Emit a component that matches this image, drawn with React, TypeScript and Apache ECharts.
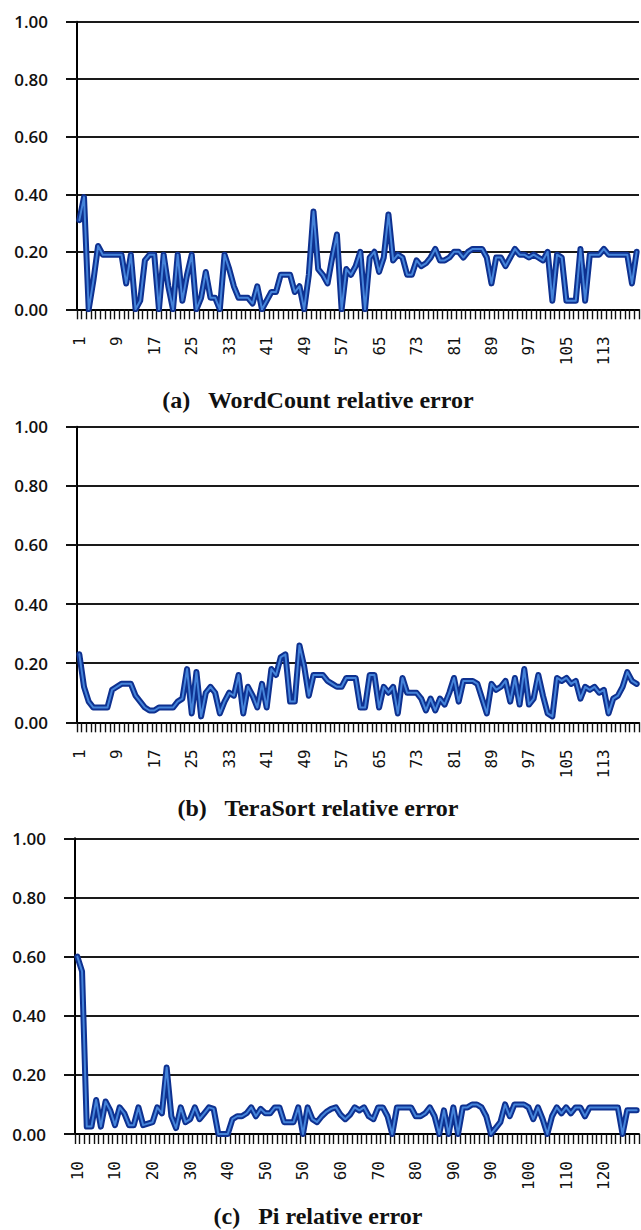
import React, { useEffect, useRef } from "react";
import * as echarts from "echarts";

// Relative error per run, 120 runs for each benchmark.
const wordCountError = [
  0.31, 0.39, 0.0, 0.1, 0.22, 0.19, 0.19, 0.19, 0.19, 0.19,
  0.09, 0.19, 0.0, 0.03, 0.17, 0.19, 0.19, 0.0, 0.19, 0.08,
  0.0, 0.19, 0.03, 0.12, 0.19, 0.0, 0.04, 0.13, 0.04, 0.04,
  0.0, 0.19, 0.14, 0.08, 0.04, 0.04, 0.04, 0.02, 0.08, 0.0,
  0.03, 0.06, 0.06, 0.12, 0.12, 0.12, 0.06, 0.08, 0.0, 0.12,
  0.34, 0.14, 0.12, 0.09, 0.18, 0.26, 0.0, 0.14, 0.12, 0.15,
  0.2, 0.0, 0.18, 0.2, 0.13, 0.18, 0.33, 0.17, 0.19, 0.18,
  0.12, 0.12, 0.17, 0.15, 0.16, 0.18, 0.21, 0.17, 0.17, 0.18,
  0.2, 0.2, 0.18, 0.2, 0.21, 0.21, 0.21, 0.18, 0.09, 0.18,
  0.18, 0.15, 0.18, 0.21, 0.19, 0.19, 0.18, 0.19, 0.18, 0.17,
  0.2, 0.03, 0.19, 0.18, 0.03, 0.03, 0.03, 0.21, 0.03, 0.19,
  0.19, 0.19, 0.21, 0.19, 0.19, 0.19, 0.19, 0.19, 0.09, 0.2,
];

const teraSortError = [
  0.23, 0.12, 0.07, 0.05, 0.05, 0.05, 0.05, 0.11, 0.12, 0.13,
  0.13, 0.13, 0.09, 0.07, 0.05, 0.04, 0.04, 0.05, 0.05, 0.05,
  0.05, 0.07, 0.08, 0.18, 0.03, 0.17, 0.02, 0.1, 0.12, 0.1,
  0.03, 0.07, 0.1, 0.09, 0.16, 0.03, 0.12, 0.09, 0.05, 0.13,
  0.05, 0.18, 0.16, 0.22, 0.23, 0.07, 0.07, 0.26, 0.19, 0.09,
  0.16, 0.16, 0.16, 0.14, 0.13, 0.12, 0.12, 0.15, 0.15, 0.15,
  0.05, 0.05, 0.16, 0.16, 0.05, 0.12, 0.1, 0.12, 0.03, 0.15,
  0.1, 0.1, 0.1, 0.08, 0.04, 0.08, 0.04, 0.08, 0.06, 0.1,
  0.15, 0.07, 0.14, 0.14, 0.14, 0.13, 0.08, 0.03, 0.13, 0.11,
  0.12, 0.14, 0.07, 0.15, 0.06, 0.18, 0.06, 0.08, 0.16, 0.09,
  0.03, 0.02, 0.15, 0.14, 0.15, 0.13, 0.14, 0.08, 0.12, 0.11,
  0.12, 0.1, 0.11, 0.03, 0.08, 0.09, 0.12, 0.17, 0.14, 0.13,
];

const piError = [
  0.6, 0.55, 0.025, 0.025, 0.115, 0.025, 0.11, 0.08, 0.03, 0.09,
  0.07, 0.03, 0.03, 0.09, 0.03, 0.035, 0.04, 0.09, 0.07, 0.225,
  0.06, 0.02, 0.09, 0.04, 0.05, 0.09, 0.05, 0.07, 0.09, 0.085,
  0.0, 0.0, 0.0, 0.05, 0.06, 0.06, 0.07, 0.09, 0.06, 0.085,
  0.07, 0.07, 0.09, 0.09, 0.04, 0.04, 0.04, 0.09, 0.0, 0.09,
  0.05, 0.04, 0.06, 0.075, 0.085, 0.09, 0.065, 0.05, 0.065, 0.09,
  0.08, 0.09, 0.06, 0.05, 0.09, 0.09, 0.06, 0.0, 0.09, 0.09,
  0.09, 0.09, 0.06, 0.06, 0.07, 0.09, 0.06, 0.0, 0.08, 0.0,
  0.09, 0.0, 0.09, 0.09, 0.1, 0.1, 0.09, 0.06, 0.0, 0.02,
  0.04, 0.1, 0.06, 0.1, 0.1, 0.1, 0.09, 0.05, 0.09, 0.05,
  0.0, 0.06, 0.09, 0.07, 0.09, 0.07, 0.09, 0.09, 0.06, 0.09,
  0.09, 0.09, 0.09, 0.09, 0.09, 0.09, 0.0, 0.08, 0.08, 0.08,
];

// Run numbers on the category axis
const runIndex = wordCountError.map((_, k) => String(k + 1));

// Tick labels printed under the Pi panel, one every 8 runs
const piTickLabels = ["10", "10", "20", "30", "40", "50", "50", "60", "70", "80", "90", "90", "100", "110", "120"];

const captions = [
  "(a)   WordCount relative error",
  "(b)   TeraSort relative error",
  "(c)   Pi relative error",
];

const panels = [
  { values: wordCountError, grid: { left: 77, top: 21.7, width: 562, height: 287.6 }, captionY: 400, pi: false },
  { values: teraSortError, grid: { left: 77, top: 426.7, width: 562, height: 295.6 }, captionY: 808, pi: false },
  { values: piError, grid: { left: 75, top: 838.3, width: 564, height: 295.7 }, captionY: 1216, pi: true },
];

const INK = "#111";

export default function App() {
  const ref = useRef<HTMLDivElement>(null);

  useEffect(() => {
    if (!ref.current) return;
    const chart = echarts.init(ref.current, undefined, { renderer: "svg" });

    const grids = panels.map((p) => ({ ...p.grid, containLabel: false, outerBoundsMode: "none" }));

    const xAxes = panels.map((p, i) => ({
      type: "category",
      gridIndex: i,
      data: runIndex,
      boundaryGap: true,
      axisLine: { show: true, onZero: false, lineStyle: { color: "#000", width: 2 } },
      axisTick: { show: true, interval: 0, length: 10, lineStyle: { color: "#111", width: 1.4 } },
      axisLabel: {
        interval: 7,
        rotate: 90,
        margin: 27,
        fontFamily: '"DejaVu Sans Mono"',
        fontSize: 16,
        color: INK,
        formatter: p.pi
          ? (_v: string, idx: number) => piTickLabels[Math.floor(idx / 8)] ?? ""
          : (v: string) => v,
      },
      splitLine: { show: false },
    }));

    const yAxes = panels.map((_p, i) => ({
      type: "value",
      gridIndex: i,
      min: 0,
      max: 1,
      interval: 0.2,
      axisLine: { show: true, lineStyle: { color: "#000", width: 2 } },
      axisTick: { show: true, length: 11, lineStyle: { color: "#111", width: 2 } },
      axisLabel: {
        margin: 29,
        fontFamily: '"Open Sans"',
        fontWeight: 600,
        fontSize: 17,
        color: INK,
        formatter: (v: number) => v.toFixed(2),
      },
      splitLine: { show: true, lineStyle: { color: "#1a1a1a", width: 2 } },
    }));

    const series: any[] = [];
    panels.forEach((p, i) => {
      // dark outer stroke
      series.push({
        type: "line",
        xAxisIndex: i,
        yAxisIndex: i,
        data: p.values,
        symbol: "none",
        lineStyle: { color: "#0e3190", width: 6, join: "round", cap: "round" },
        z: 3,
      });
      // light inner core
      series.push({
        type: "line",
        xAxisIndex: i,
        yAxisIndex: i,
        data: p.values,
        symbol: "none",
        lineStyle: { color: "#4584da", width: 2, join: "round", cap: "round" },
        z: 4,
      });
    });

    const graphic = panels.map((p, i) => ({
      type: "text",
      x: 318,
      y: p.captionY,
      style: {
        text: captions[i],
        fontFamily: '"Liberation Serif"',
        fontWeight: "bold",
        fontSize: 24,
        fill: "#111",
        align: "center",
        verticalAlign: "middle",
      },
    }));

    chart.setOption({
      animation: false,
      backgroundColor: "#fff",
      grid: grids,
      xAxis: xAxes,
      yAxis: yAxes,
      series,
      graphic,
    });

    return () => chart.dispose();
  }, []);

  return (
    <div
      ref={ref}
      style={{ position: "absolute", left: 0, top: 0, width: 641, height: 1230, background: "#fff" }}
    />
  );
}
